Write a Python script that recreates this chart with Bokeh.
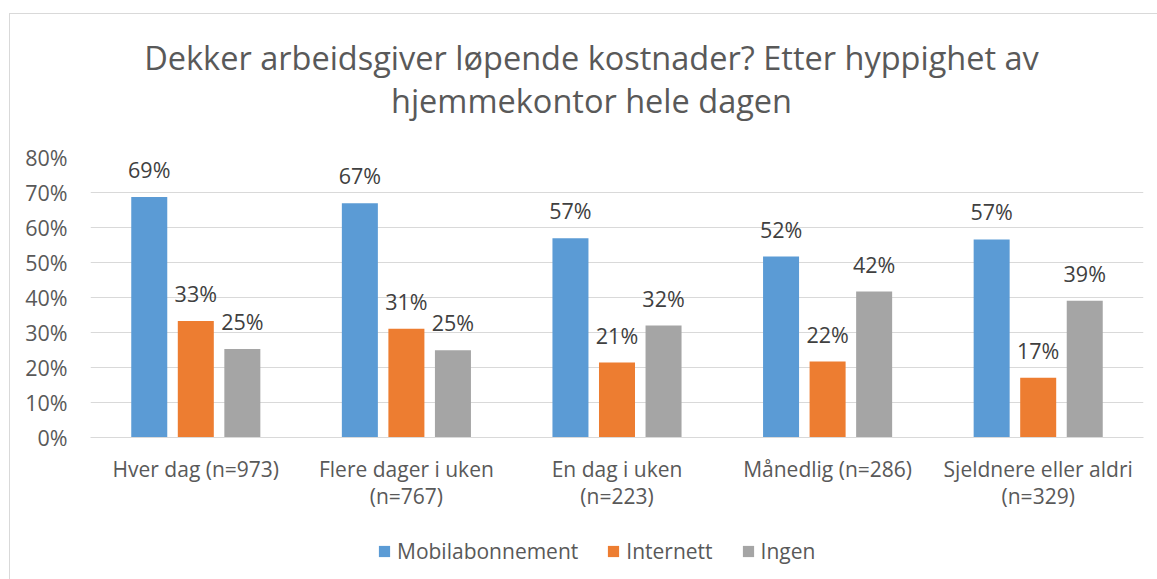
from bokeh.plotting import figure
from bokeh.layouts import column
from bokeh.models import (ColumnDataSource, FactorRange, Range1d, FixedTicker,
                          PrintfTickFormatter, LabelSet, Label, Legend, LegendItem)
from bokeh.core.properties import value
from bokeh.transform import dodge
from bokeh.embed import file_html
from bokeh.resources import INLINE

# ---- data ----
categories = ["Hver dag (n=973)", "Flere dager i uken\n(n=767)", "En dag i uken\n(n=223)",
              "Månedlig (n=286)", "Sjeldnere eller aldri\n(n=329)"]
mobil = [68.7, 66.9, 56.9, 51.7, 56.6]
internett = [33.3, 31.1, 21.4, 21.7, 17.1]
ingen = [25.3, 24.9, 32.0, 41.7, 39.1]
series_names = ["Mobilabonnement", "Internett", "Ingen"]
y_ticks = [0, 10, 20, 30, 40, 50, 60, 70, 80]
title_lines = ["Dekker arbeidsgiver løpende kostnader? Etter hyppighet av",
               "hjemmekontor hele dagen"]

colors = ["#5B9BD5", "#ED7D31", "#A5A5A5"]
FONT = "Open Sans"
FS = "21.5px"
FSX = "21px"
TXT = "#595959"

src = ColumnDataSource(dict(
    cat=categories,
    mobil=mobil, internett=internett, ingen=ingen,
    mobil_t=[f"{round(v)}%" for v in mobil],
    internett_t=[f"{round(v)}%" for v in internett],
    ingen_t=[f"{round(v)}%" for v in ingen],
))

W = 1147
TH = 123
LH = 59
FL, FR = 80, 1133


def blank_fig(h):
    f = figure(width=W, height=h, output_backend="svg", toolbar_location=None,
               title_location=None,
               x_range=Range1d(FL, FR), y_range=Range1d(h, 0),
               x_axis_type=None, y_axis_type=None,
               min_border_left=FL, min_border_right=W - FR,
               min_border_top=0, min_border_bottom=0)
    f.outline_line_color = None
    f.grid.grid_line_color = None
    return f


# ---- title figure ----
tfig = blank_fig(TH)
for line, yb in zip(title_lines, [43, 86]):
    tfig.add_layout(Label(x=581, y=yb, text=line, text_align="center",
                          text_baseline="alphabetic", text_font=FONT,
                          text_font_size="32.5px", text_color=TXT))

# ---- main figure ----
H = 579 - 14 - TH - LH
FT, FB = 20, 300

p = figure(width=W, height=H, output_backend="svg", toolbar_location=None,
           x_range=FactorRange(*categories, range_padding=0),
           y_range=Range1d(0, 80),
           min_border_left=FL, min_border_right=W - FR,
           min_border_top=FT, min_border_bottom=H - FB)
p.outline_line_color = None

off = 0.221
bw = 0.171
keys = ["mobil", "internett", "ingen"]
for k, c, o in zip(keys, colors, [-off, 0, off]):
    p.vbar(x=dodge("cat", o, range=p.x_range), top=k, width=bw, source=src,
           fill_color=c, line_color=None)
    lab = LabelSet(x=dodge("cat", o, range=p.x_range), y=k, text=k + "_t", source=src,
                   text_align="center", text_baseline="alphabetic", y_offset=19,
                   text_font=value(FONT), text_font_size=value(FS), text_color="#404040")
    p.add_layout(lab)

p.xgrid.grid_line_color = None
p.ygrid.grid_line_color = "#d9d9d9"
p.ygrid.ticker = FixedTicker(ticks=y_ticks)
p.yaxis.ticker = FixedTicker(ticks=y_ticks)
p.yaxis.formatter = PrintfTickFormatter(format="%d%%")
p.yaxis.axis_line_color = None
p.yaxis.major_tick_line_color = None
p.yaxis.minor_tick_line_color = None
p.yaxis.major_label_standoff = 17
p.yaxis.major_label_text_font = FONT
p.yaxis.major_label_text_font_size = FS
p.yaxis.major_label_text_color = TXT

p.xaxis.axis_line_color = "#d9d9d9"
p.xaxis.major_tick_line_color = None
p.xaxis.minor_tick_line_color = None
p.xaxis.major_label_standoff = 11
p.xaxis.major_label_text_font = FONT
p.xaxis.major_label_text_font_size = FSX
p.xaxis.major_label_text_color = TXT
p.xaxis.major_label_text_line_height = 0.97

# ---- legend figure (zero-height swatch renderers carry the series colours) ----
lfig = blank_fig(LH)
legend_renderers = [lfig.vbar(x=[FL], top=[0], bottom=[0], width=0,
                              fill_color=c, line_color=None) for c in colors]
legend = Legend(items=[LegendItem(label=n, renderers=[r])
                       for n, r in zip(series_names, legend_renderers)],
                orientation="horizontal", location=(287, 14),
                glyph_width=14, glyph_height=14, label_standoff=6, spacing=28,
                padding=0, margin=0, border_line_color=None, background_fill_alpha=0,
                label_text_font=FONT, label_text_font_size=FSX, label_text_color=TXT)
lfig.add_layout(legend)

layout = column(tfig, p, lfig, spacing=0, margin=(13, 0, 0, 9),
                styles={"border-left": "1px solid #d9d9d9", "border-top": "1px solid #d9d9d9"})

open("out.html", "w").write(file_html(layout, INLINE))
